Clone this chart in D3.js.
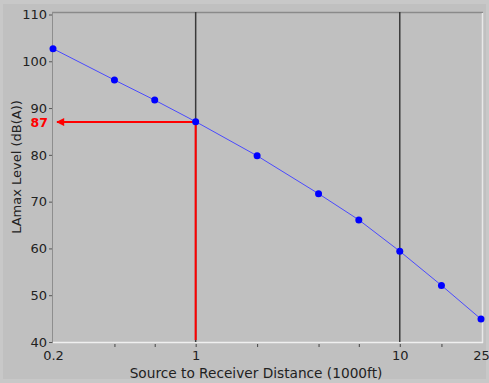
<!DOCTYPE html>
<html>
<head>
<meta charset="utf-8">
<script src="https://cdn.jsdelivr.net/npm/d3@7"></script>
<style>
  html, body { margin: 0; padding: 0; background: #c0c0c0; }
  text { font-family: "DejaVu Sans", sans-serif; }
</style>
</head>
<body>
<script>
// distance (1000 ft) vs LAmax level
let distances = [0.2, 0.4, 0.63, 1, 2, 4, 6.3, 10, 16, 25]
let levels = [102.7, 96.0, 91.7, 87.1, 79.8, 71.7, 66.1, 59.4, 52.1, 44.9]
let xTickLabels = [0.2, 1, 10, 25]
let yTicks = [40, 50, 60, 70, 80, 90, 100, 110]
let gridX = [1, 10]
let marked = { x: 1, y: 87 }

let width = 489, height = 383
let svg = d3.select("body").append("svg")
            .attr("width", width)
            .attr("height", height)

// lighter outer strip like the panel edge
svg.append("rect").attr("width", width).attr("height", height).attr("fill", "#c8c8c8")
svg.append("rect").attr("x", 3).attr("y", 4).attr("width", width - 6).attr("height", height - 8).attr("fill", "#c0c0c0")

let x = d3.scaleLog().domain([0.2, 25]).range([53, 481])
let y = d3.scaleLinear().domain([40, 110]).range([342, 14.5])

// plot frame: dark top, grey left, white right/bottom
svg.append("line").attr("x1", 52).attr("x2", 483).attr("y1", 12.5).attr("y2", 12.5)
   .attr("stroke", "#8a8a8a").attr("stroke-width", 1.5)
svg.append("line").attr("x1", 52.5).attr("x2", 52.5).attr("y1", 12).attr("y2", 343)
   .attr("stroke", "#8e8e8e").attr("stroke-width", 1)
svg.append("line").attr("x1", 482.5).attr("x2", 482.5).attr("y1", 13).attr("y2", 343)
   .attr("stroke", "#e8e8e8").attr("stroke-width", 1.5)
svg.append("line").attr("x1", 53).attr("x2", 483).attr("y1", 342.5).attr("y2", 342.5)
   .attr("stroke", "#f0f0f0").attr("stroke-width", 1.5)

// y axis
let yAxis = d3.axisLeft(y).tickValues(yTicks).tickSize(3).tickPadding(2)
let gy = svg.append("g").attr("transform", "translate(52,0)").call(yAxis)
gy.select(".domain").remove()
gy.selectAll(".tick line").attr("stroke", "#555")
gy.selectAll("text").attr("font-size", 13).attr("fill", "#222")

// x axis: small ticks at data points, labels only at a few
let xAxis = d3.axisBottom(x).tickValues(distances).tickSize(3).tickPadding(4)
              .tickFormat(d => xTickLabels.includes(d) ? d : "")
let gx = svg.append("g").attr("transform", "translate(0,344)").call(xAxis)
gx.select(".domain").remove()
gx.selectAll(".tick line").attr("stroke", "#444")
gx.selectAll(".tick").filter(d => d === 0.2 || d === 25).select("line").remove()
gx.selectAll("text").attr("font-size", 13).attr("fill", "#222")

// vertical grid lines at decades
svg.selectAll(".grid").data(gridX).enter().append("line")
   .attr("x1", d => x(d)).attr("x2", d => x(d))
   .attr("y1", 12).attr("y2", 342)
   .attr("stroke", "#3a3a3a").attr("stroke-width", 1.5)

// red marker lines
svg.append("defs").append("marker")
   .attr("id", "arr").attr("viewBox", "0 0 10 10")
   .attr("refX", 9).attr("refY", 5)
   .attr("markerWidth", 5).attr("markerHeight", 4)
   .attr("orient", "auto")
   .append("path").attr("d", "M0,0L10,5L0,10z").attr("fill", "#ff0000")

svg.append("line")
   .attr("x1", x(marked.x)).attr("x2", x(marked.x))
   .attr("y1", y(marked.y) - 1).attr("y2", 340)
   .attr("stroke", "#ff0000").attr("stroke-width", 2)
svg.append("line")
   .attr("x1", x(marked.x)).attr("x2", 57)
   .attr("y1", y(marked.y)).attr("y2", y(marked.y))
   .attr("stroke", "#ff0000").attr("stroke-width", 2)
   .attr("marker-end", "url(#arr)")
svg.append("text")
   .attr("x", 48).attr("y", y(marked.y) + 5)
   .attr("text-anchor", "end").attr("font-size", 12.5).attr("font-weight", "bold")
   .attr("fill", "#ff0000").text(marked.y)

// data line and points
let line = d3.line().x((d, i) => x(distances[i])).y(d => y(d))
svg.append("path").datum(levels)
   .attr("d", line).attr("fill", "none")
   .attr("stroke", "#4a4aff").attr("stroke-width", 1)
svg.selectAll(".pt").data(levels).enter().append("circle")
   .attr("cx", (d, i) => x(distances[i])).attr("cy", d => y(d))
   .attr("r", 3.5).attr("fill", "#0000ff")

// axis titles
svg.append("text").attr("x", 256).attr("y", 378)
   .attr("text-anchor", "middle").attr("font-size", 13.7).attr("fill", "#222")
   .text("Source to Receiver Distance (1000ft)")
svg.append("text")
   .attr("transform", "translate(21,167) rotate(-90)")
   .attr("text-anchor", "middle").attr("font-size", 13).attr("fill", "#222")
   .text("LAmax Level (dB(A))")
</script>
</body>
</html>
